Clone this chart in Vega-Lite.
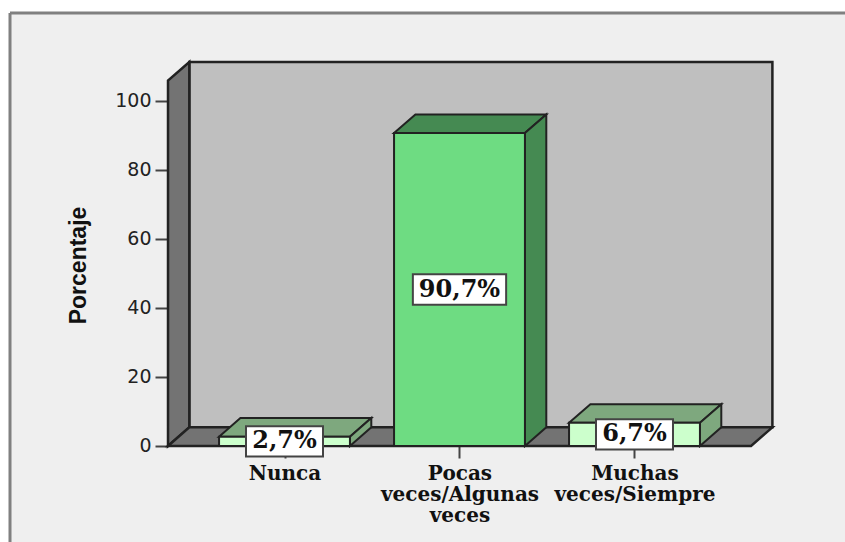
{
"$schema":"https://vega.github.io/schema/vega-lite/v6.json",
"width":835,"height":529,
"autosize":{"type":"none"},
"padding":{"left":10,"top":13,"right":0,"bottom":0},
"background":"#ffffff",
"view":{"fill":"#efefef","stroke":null},
"data":{"values":[
{"categoria":"Nunca","porcentaje":2.7},
{"categoria":"Pocas veces/Algunas veces","porcentaje":90.7},
{"categoria":"Muchas veces/Siempre","porcentaje":6.7}
]},
"transform":[
{"calculate":"indexof(['Nunca','Pocas veces/Algunas veces','Muchas veces/Siempre'],datum.categoria)+1","as":"c"},
{"calculate":"datum.c-0.374","as":"x0"},
{"calculate":"datum.c+0.374","as":"x1"},
{"calculate":"replace(format(datum.porcentaje,'.1f'),'.',',')+'%'","as":"etiqueta"}
],
"encoding":{
"x":{"field":"x","type":"quantitative","scale":{"domain":[-0.5686,4.2029],"nice":false,"zero":false},
"axis":{"title":null,"grid":false,"domain":false,"values":[1,2,3],"offset":-96,"tickSize":12,"tickWidth":2,"tickColor":"#444444",
"labelExpr":"datum.value==1?'Nunca':datum.value==2?['Pocas','veces/Algunas','veces']:['Muchas','veces/Siempre']",
"labelFont":"DejaVu Serif","labelFontWeight":"bold","labelFontSize":20,"labelColor":"#111111","labelPadding":5,"labelLineHeight":21,"labelOverlap":false,"labelBound":false,"labelFlush":false,"labelBaseline":"top"}},
"y":{"field":"y","type":"quantitative","scale":{"domain":[-27.83,125.5],"nice":false,"zero":false},
"axis":{"grid":false,"domain":false,"values":[0,20,40,60,80,100],"offset":-158,"tickSize":13,"tickWidth":2,"tickColor":"#444444",
"labelFont":"DejaVu Sans","labelFontSize":19,"labelColor":"#222222","labelPadding":4,"labelFontWeight":"normal",
"title":"Porcentaje","titleFont":"Liberation Sans","titleFontWeight":"bold","titleFontSize":23,"titleColor":"#111111","titleX":-78,"titleY":252,"titleAngle":-90}}
},
"layer":[
{"data":{"values":[{"pieza":"marco izquierdo"}]},
"transform":[{"calculate":"-0.5686","as":"x"},{"calculate":"-27.83","as":"y"},{"calculate":"125.5","as":"y2v"}],
"mark":{"type":"rule","color":"#808080","strokeWidth":3},
"encoding":{"y2":{"field":"y2v"}}},
{"data":{"values":[{"pieza":"marco superior"}]},
"transform":[{"calculate":"-0.5686","as":"x"},{"calculate":"4.2029","as":"x2v"},{"calculate":"125.5","as":"y"}],
"mark":{"type":"rule","color":"#808080","strokeWidth":3},
"encoding":{"x2":{"field":"x2v"}}},
{"data":{"values":[{"pieza":"pared"}]},
"transform":[{"calculate":"0.456","as":"x"},{"calculate":"3.788","as":"x2v"},{"calculate":"5.4","as":"y"},{"calculate":"111.3","as":"y2v"}],
"mark":{"type":"rect","fill":"#bfbfbf","stroke":"#222222","strokeWidth":2.5},
"encoding":{"x2":{"field":"x2v"},"y2":{"field":"y2v"}}},
{"data":{"values":[{"pieza":"lateral"}]},
"transform":[{"calculate":"[0.3343,0.456]","as":"x"},{"calculate":"[0,5.4]","as":"y"},{"calculate":"[105.9,111.3]","as":"y2v"},{"flatten":["x","y","y2v"]}],
"mark":{"type":"area","fill":"#737373","stroke":"#222222","strokeWidth":2.5},
"encoding":{"y2":{"field":"y2v"}}},
{"data":{"values":[{"pieza":"suelo"}]},
"transform":[{"calculate":"[0.3343,0.456,3.666,3.788]","as":"x"},{"calculate":"[0,0,0,5.4]","as":"y"},{"calculate":"[0,5.4,5.4,5.4]","as":"y2v"},{"flatten":["x","y","y2v"]}],
"mark":{"type":"area","fill":"#737373","stroke":"#222222","strokeWidth":2.5},
"encoding":{"y2":{"field":"y2v"}}},
{"transform":[
{"calculate":"[datum.x0,datum.x0+0.122,datum.x1,datum.x1+0.122]","as":"x"},
{"calculate":"[datum.porcentaje,datum.porcentaje,datum.porcentaje,datum.porcentaje+5.4]","as":"y"},
{"calculate":"[datum.porcentaje,datum.porcentaje+5.4,datum.porcentaje+5.4,datum.porcentaje+5.4]","as":"y2v"},
{"flatten":["x","y","y2v"]}],
"mark":{"type":"area","stroke":"#222222","strokeWidth":2},
"encoding":{"y2":{"field":"y2v"},"detail":{"field":"categoria"},
"fill":{"condition":{"test":"datum.c==2","value":"#458a52"},"value":"#7ea87e"}}},
{"transform":[
{"calculate":"[datum.x1,datum.x1+0.122]","as":"x"},
{"calculate":"[0,5.4]","as":"y"},
{"calculate":"[datum.porcentaje,datum.porcentaje+5.4]","as":"y2v"},
{"flatten":["x","y","y2v"]}],
"mark":{"type":"area","stroke":"#222222","strokeWidth":2},
"encoding":{"y2":{"field":"y2v"},"detail":{"field":"categoria"},
"fill":{"condition":{"test":"datum.c==2","value":"#458a52"},"value":"#7ea87e"}}},
{"transform":[{"calculate":"datum.x0","as":"x"},{"calculate":"0","as":"y"}],
"mark":{"type":"rect","stroke":"#222222","strokeWidth":2},
"encoding":{"x2":{"field":"x1"},"y2":{"field":"porcentaje"},
"fill":{"condition":{"test":"datum.c==2","value":"#6edc82"},"value":"#ccffcc"}}},
{"transform":[
{"calculate":"0.034+0.0465*length(datum.etiqueta)","as":"m"},
{"calculate":"datum.c-datum.m","as":"x"},{"calculate":"datum.c+datum.m","as":"x2v"},
{"calculate":"datum.porcentaje/2-4.4","as":"y"},{"calculate":"datum.porcentaje/2+4.4","as":"y2v"}],
"mark":{"type":"rect","fill":"#ffffff","stroke":"#444444","strokeWidth":2},
"encoding":{"x2":{"field":"x2v"},"y2":{"field":"y2v"}}},
{"transform":[{"calculate":"datum.c","as":"x"},{"calculate":"datum.porcentaje/2","as":"y"}],
"mark":{"type":"text","font":"DejaVu Serif","fontWeight":"bold","fontSize":24,"color":"#111111","align":"center","baseline":"middle"},
"encoding":{"text":{"field":"etiqueta"}}}
]
}
